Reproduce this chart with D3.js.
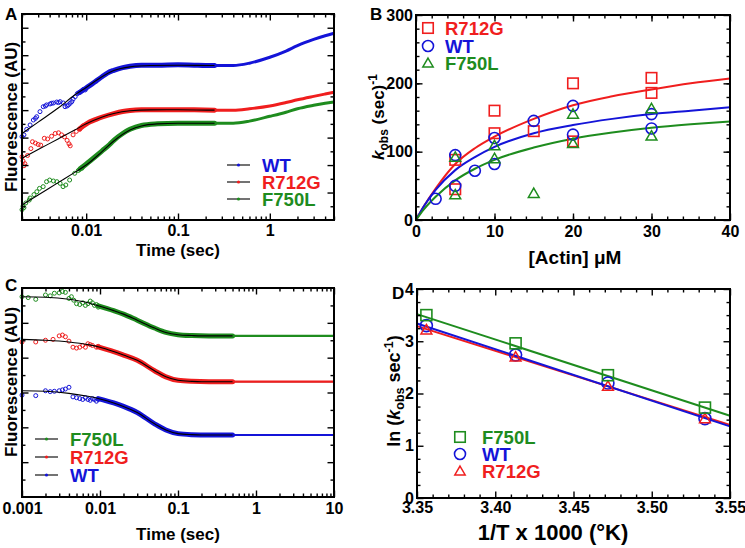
<!DOCTYPE html>
<html>
<head>
<meta charset="utf-8">
<script src="https://cdn.jsdelivr.net/npm/d3@7"></script>
<style>
body { margin: 0; background: #fff; }
svg text { font-family: "Liberation Sans", Arial, sans-serif; font-weight: bold; }
</style>
</head>
<body>
<svg id="fig" width="745" height="548"></svg>
<script>
var BLUE = "#1414d8", RED = "#f01e1e", GREEN = "#1e8c1e";

/* ---- panel A : transients, time (sec) vs fluorescence (AU) ---- */
var aTicks = [0.01, 0.1, 1];
var aTickLabels = ["0.01", "0.1", "1"];

var aWTPts = [[0.0020,6.07],[0.0021,6.2],[0.00225,6.6],[0.00245,6.92],[0.00266,7.28],[0.0028,7.4],[0.00289,7.52],[0.00314,7.89],[0.00341,8.25],[0.0036,8.3],[0.00371,8.38],[0.00404,8.45],[0.0042,8.5],[0.0044,8.52],[0.00478,8.59],[0.005,8.55],[0.0052,8.62],[0.00565,8.52],[0.00589,8.25],[0.0062,8.3],[0.00641,8.38],[0.0067,8.5],[0.00698,8.62],[0.0072,8.8],[0.00759,8.98],[0.0080,9.2],[0.00825,9.25],[0.0086,9.3],[0.00897,9.4],[0.0093,9.5],[0.00976,9.47]];
var aWTBand = [[0.0085,9.3],[0.011,9.8],[0.013,10.15],[0.015,10.45],[0.017,10.7],[0.02,10.9],[0.025,11.1],[0.03,11.2],[0.04,11.27],[0.06,11.27],[0.1,11.3],[0.15,11.27],[0.2,11.25],[0.25,11.25]];
var aWTTail = [[0.25,11.25],[0.4,11.25],[0.6,11.42],[1,11.85],[1.5,12.3],[2,12.7],[3,13.15],[4,13.42],[5,13.6]];
var aWTFit = [[0.002,6.3],[0.003,7.13],[0.005,8.17],[0.0075,9.1],[0.01,9.65],[0.015,10.45],[0.02,10.88],[0.03,11.15],[0.05,11.25],[0.1,11.27],[0.25,11.25],[0.4,11.25],[0.6,11.42],[1,11.85],[1.5,12.3],[2,12.7],[3,13.15],[4,13.42],[5,13.6]];

var aR7Pts = [[0.0020,4.6],[0.00205,4.3],[0.0021,3.95],[0.00215,4.1],[0.0023,4.7],[0.0025,5.2],[0.0026,5.7],[0.0028,5.6],[0.003,5.5],[0.0032,5.45],[0.0035,5.95],[0.0038,5.9],[0.0042,6.1],[0.0046,6.3],[0.005,6.35],[0.0054,6.2],[0.0058,6.05],[0.0062,5.8],[0.0065,5.55],[0.0067,5.4],[0.0072,6.2],[0.0078,6.45],[0.0085,6.6],[0.0092,6.85]];
var aR7Band = [[0.0085,6.65],[0.011,7.15],[0.013,7.35],[0.015,7.5],[0.02,7.75],[0.025,7.9],[0.03,7.97],[0.04,8.02],[0.06,8.03],[0.1,8.03],[0.15,8.02],[0.25,8.0]];
var aR7Tail = [[0.25,8.0],[0.4,8.0],[0.6,8.1],[1,8.3],[1.5,8.55],[2,8.75],[3,9.0],[4,9.17],[5,9.3]];
var aR7Fit = [[0.002,4.5],[0.003,5.13],[0.005,5.92],[0.0075,6.55],[0.01,7.0],[0.015,7.5],[0.02,7.75],[0.03,7.95],[0.05,8.02],[0.1,8.03],[0.25,8.0],[0.4,8.0],[0.6,8.1],[1,8.3],[1.5,8.55],[2,8.75],[3,9.0],[4,9.17],[5,9.3]];

var aF7Pts = [[0.0020,0.75],[0.00205,1.0],[0.0021,0.9],[0.0022,1.24],[0.0024,1.45],[0.00245,1.6],[0.0027,1.85],[0.0029,2.06],[0.0031,2.3],[0.0034,2.43],[0.0037,2.79],[0.004,2.91],[0.0044,2.84],[0.0048,2.79],[0.0052,2.67],[0.0056,2.43],[0.006,2.55],[0.0066,2.91],[0.0075,3.4],[0.0082,3.6],[0.009,3.77]];
var aF7Band = [[0.0085,3.7],[0.011,4.3],[0.013,4.7],[0.015,5.05],[0.018,5.5],[0.02,5.8],[0.025,6.3],[0.03,6.6],[0.04,6.88],[0.06,7.0],[0.1,7.05],[0.15,7.05],[0.25,7.05]];
var aF7Tail = [[0.25,7.05],[0.4,7.05],[0.6,7.2],[1,7.55],[1.5,7.85],[2,8.1],[3,8.35],[4,8.5],[5,8.6]];
var aF7Fit = [[0.002,1.09],[0.003,1.82],[0.005,2.74],[0.0075,3.47],[0.01,4.0],[0.015,5.0],[0.02,5.75],[0.03,6.55],[0.04,6.85],[0.06,7.0],[0.1,7.05],[0.25,7.05],[0.4,7.05],[0.6,7.2],[1,7.55],[1.5,7.85],[2,8.1],[3,8.35],[4,8.5],[5,8.6]];

/* ---- panel B : kobs vs [actin] ---- */
var bTicksX = [0, 10, 20, 30, 40];
var bTicksY = [0, 100, 200, 300];
var bR7 = [[5,88],[5,45],[10,160],[10,127],[15,130],[20,200],[20,115],[30,208],[30,186]];
var bWT = [[2.5,31],[5,95],[5,50],[7.5,72],[10,120],[10,82],[15,145],[20,167],[20,125],[30,155],[30,134]];
var bF7 = [[5,92],[5,37],[10,109],[10,90],[15,39],[20,155],[20,112],[30,163],[30,123]];
var bR7Fit = [[0,0],[1,20],[2.5,46],[5,82],[7.5,105],[10,122],[15,148],[20,168],[25,181],[30,191],[35,200],[40,207]];
var bWTFit = [[0,0],[1,20],[2.5,44],[5,73],[7.5,92],[10,107],[15,127],[20,139],[25,148],[30,155],[35,160],[40,165]];
var bF7Fit = [[0,0],[1,15.5],[2.5,34],[5,58],[7.5,75],[10,88],[15,106],[20,119],[25,128],[30,135],[35,140],[40,144]];

/* ---- panel C : transients ---- */
var cTicks = [0.001, 0.01, 0.1, 1, 10];
var cTickLabels = ["0.001", "0.01", "0.1", "1", "10"];

var cF7Pts = [[0.001,11.5],[0.0012,11.45],[0.0015,11.35],[0.002,11.6],[0.0023,11.55],[0.0026,11.7],[0.003,11.72],[0.0033,11.8],[0.0036,11.75],[0.004,11.4],[0.0043,11.5],[0.0046,11.3],[0.005,11.1],[0.0055,11.05],[0.006,11.15],[0.0065,11.0],[0.007,11.1],[0.0075,11.25],[0.008,11.15],[0.0085,11.0],[0.009,11.05],[0.0095,10.9]];
var cF7Band = [[0.0095,10.98],[0.015,10.7],[0.02,10.5],[0.03,10.15],[0.05,9.7],[0.07,9.45],[0.1,9.32],[0.15,9.27],[0.25,9.25],[0.5,9.25]];
var cF7Tail = [[0.5,9.25],[1,9.25],[3,9.25],[10,9.25]];
var cF7Fit = [[0.001,11.5],[0.002,11.47],[0.004,11.35],[0.007,11.15],[0.01,10.95],[0.015,10.7],[0.02,10.5],[0.03,10.15],[0.05,9.7],[0.07,9.45],[0.1,9.32],[0.15,9.27],[0.2,9.25],[0.5,9.25],[10,9.25]];

var cR7Pts = [[0.001,8.9],[0.0015,8.9],[0.002,9.0],[0.0025,9.05],[0.003,9.25],[0.0033,9.3],[0.0036,9.2],[0.004,8.95],[0.0045,8.6],[0.005,8.55],[0.0055,8.6],[0.006,8.7],[0.0065,8.6],[0.007,8.8],[0.0075,8.75],[0.008,8.7],[0.009,8.6],[0.0095,8.65]];
var cR7Band = [[0.0095,8.62],[0.015,8.35],[0.02,8.15],[0.03,7.85],[0.05,7.25],[0.07,6.9],[0.1,6.7],[0.15,6.64],[0.25,6.62],[0.5,6.62]];
var cR7Tail = [[0.5,6.62],[1,6.62],[3,6.62],[10,6.62]];
var cR7Fit = [[0.001,9.05],[0.002,9.0],[0.004,8.9],[0.007,8.75],[0.01,8.6],[0.015,8.35],[0.02,8.15],[0.03,7.85],[0.05,7.25],[0.07,6.9],[0.1,6.7],[0.15,6.64],[0.2,6.62],[0.5,6.62],[10,6.62]];

var cWTPts = [[0.001,5.85],[0.0015,5.82],[0.002,6.1],[0.0023,6.05],[0.0026,6.07],[0.003,6.1],[0.0033,6.15],[0.0036,6.2],[0.004,6.3],[0.0045,5.75],[0.005,5.7],[0.0055,5.65],[0.006,5.6],[0.0065,5.7],[0.007,5.6],[0.0075,5.55],[0.008,5.65],[0.0085,5.6],[0.009,5.5],[0.0095,5.6]];
var cWTBand = [[0.0095,5.65],[0.015,5.4],[0.02,5.2],[0.03,4.85],[0.05,4.2],[0.07,3.85],[0.1,3.64],[0.15,3.58],[0.25,3.56],[0.5,3.56]];
var cWTTail = [[0.5,3.56],[1,3.56],[3,3.56],[10,3.56]];
var cWTFit = [[0.001,6.1],[0.002,6.07],[0.004,5.95],[0.007,5.78],[0.01,5.63],[0.015,5.4],[0.02,5.2],[0.03,4.85],[0.05,4.2],[0.07,3.85],[0.1,3.64],[0.15,3.58],[0.2,3.56],[0.5,3.56],[10,3.56]];

/* ---- panel D : Arrhenius ---- */
var dTicksX = [3.35, 3.40, 3.45, 3.50, 3.55];
var dTicksY = [0, 1, 2, 3, 4];
var dTemps = [3.356, 3.413, 3.472, 3.534];
var dF7 = [3.50, 2.96, 2.35, 1.73];
var dWT = [3.30, 2.74, 2.20, 1.52];
var dR7 = [3.22, 2.70, 2.14, 1.52];
var dF7Fit = [[3.35,3.52],[3.55,1.575]];
var dWTFit = [[3.35,3.34],[3.55,1.37]];
var dR7Fit = [[3.35,3.29],[3.55,1.40]];

var svg = d3.select("#fig");

function panel(left, top) {
    return svg.append("g").attr("transform", "translate(" + left + "," + top + ")");
}

// inward ticks on all four sides, labels only bottom / left
function axes(g, x, y, w, h, o) {
    function side(fn, scale, vals, size, fmt, tr, pad) {
        var a = fn(scale).tickValues(vals).tickSizeInner(-size).tickSizeOuter(0)
            .tickPadding(pad || 4).tickFormat(fmt || "");
        var s = g.append("g").attr("transform", tr).call(a);
        s.select(".domain").remove();
        s.selectAll("line").attr("stroke", "#000").attr("stroke-width", 1.4);
        s.selectAll("text").attr("fill", "#000").style("font-size", "16px");
        return s;
    }
    side(d3.axisBottom, x, o.xMajor, 6.5, o.xFmt, "translate(0," + h + ")", o.xPad);
    side(d3.axisBottom, x, o.xMinor, 3.5, null, "translate(0," + h + ")");
    side(d3.axisTop, x, o.xMajor, 6.5, null, "translate(0,0)");
    side(d3.axisTop, x, o.xMinor, 3.5, null, "translate(0,0)");
    side(d3.axisLeft, y, o.yMajor, 6.5, o.yFmt, "translate(0,0)", o.yPad);
    side(d3.axisLeft, y, o.yMinor, 3.5, null, "translate(0,0)");
    side(d3.axisRight, y, o.yMajor, 6.5, null, "translate(" + w + ",0)");
    side(d3.axisRight, y, o.yMinor, 3.5, null, "translate(" + w + ",0)");
    g.append("rect").attr("width", w).attr("height", h)
        .attr("fill", "none").attr("stroke", "#000").attr("stroke-width", 2);
}

function range(a, b, step) { return d3.range(a, b + step / 2, step); }

function logMinor(scale) {
    return scale.ticks().filter(function (t) {
        var m = t / Math.pow(10, Math.floor(Math.log10(t) + 1e-9));
        return Math.abs(m - 1) > 1e-6;
    });
}

function drawTrace(g, x, y, tr, color, tailW) {
    var line = d3.line().x(function (d) { return x(d[0]); }).y(function (d) { return y(d[1]); })
        .curve(d3.curveMonotoneX);
    g.append("path").attr("d", line(tr.band)).attr("fill", "none").attr("stroke", color)
        .attr("stroke-width", 5).attr("stroke-linecap", "round");
    g.selectAll(null).data(tr.pts).enter().append("circle")
        .attr("cx", function (d) { return x(d[0]); }).attr("cy", function (d) { return y(d[1]); })
        .attr("r", 2).attr("fill", "none").attr("stroke", color).attr("stroke-width", 1);
    g.append("path").attr("d", line(tr.fit)).attr("fill", "none").attr("stroke", "#000")
        .attr("stroke-width", 1.1);
    g.append("path").attr("d", line(tr.tail)).attr("fill", "none").attr("stroke", color)
        .attr("stroke-width", tailW);
}

function legendLines(g, x0, textX, rows) {
    rows.forEach(function (r) {
        g.append("line").attr("x1", x0).attr("x2", x0 + 23).attr("y1", r.y).attr("y2", r.y)
            .attr("stroke", "#000").attr("stroke-width", 1.1);
        g.append("circle").attr("cx", x0 + 11.5).attr("cy", r.y).attr("r", 1.6).attr("fill", r.color);
        g.append("text").attr("x", textX).attr("y", r.y + 6.5).attr("fill", r.color)
            .style("font-size", "18.5px").text(r.name);
    });
}

function marker(g, type, cx, cy, color, s) {
    if (type === "square") {
        g.append("rect").attr("x", cx - s / 2).attr("y", cy - s / 2).attr("width", s).attr("height", s)
            .attr("fill", "none").attr("stroke", color).attr("stroke-width", 1.6);
    } else if (type === "circle") {
        g.append("circle").attr("cx", cx).attr("cy", cy).attr("r", s / 2)
            .attr("fill", "none").attr("stroke", color).attr("stroke-width", 1.6);
    } else {
        g.append("path").attr("d", d3.symbol(d3.symbolTriangle, s * s * 0.42)())
            .attr("transform", "translate(" + cx + "," + (cy + 1) + ")")
            .attr("fill", "none").attr("stroke", color).attr("stroke-width", 1.5);
    }
}

function label(x, y, t) {
    svg.append("text").attr("x", x).attr("y", y).style("font-size", "17px").text(t);
}

function ytitle(x, y, size, parts) {
    var t = svg.append("text").attr("transform", "translate(" + x + "," + y + ") rotate(-90)")
        .attr("text-anchor", "middle").style("font-size", size + "px");
    parts.forEach(function (p) {
        var s = t.append("tspan").text(p.t);
        if (p.size) s.style("font-size", p.size + "px");
        if (p.dy) s.attr("dy", p.dy);
        if (p.it) s.style("font-style", "italic");
    });
    return t;
}

function xtitle(x, y, size, t) {
    svg.append("text").attr("x", x).attr("y", y).attr("text-anchor", "middle")
        .style("font-size", size + "px").text(t);
}

/* ===== A ===== */
(function () {
    var w = 312, h = 206, g = panel(22, 14);
    var x = d3.scaleLog().domain([0.002, 5]).range([0, w]);
    var y = d3.scaleLinear().domain([0, 15]).range([h, 0]);
    drawTrace(g, x, y, { pts: aWTPts, band: aWTBand, tail: aWTTail, fit: aWTFit }, BLUE, 3);
    drawTrace(g, x, y, { pts: aR7Pts, band: aR7Band, tail: aR7Tail, fit: aR7Fit }, RED, 3);
    drawTrace(g, x, y, { pts: aF7Pts, band: aF7Band, tail: aF7Tail, fit: aF7Fit }, GREEN, 3);
    axes(g, x, y, w, h, {
        xMajor: aTicks, xMinor: logMinor(x), xPad: 5,
        xFmt: function (d, i) { return aTickLabels[i]; },
        yMajor: range(2, 14, 2), yMinor: range(1, 15, 2)
    });
    legendLines(g, 205, 240, [{ y: 151, name: "WT", color: BLUE }, { y: 168, name: "R712G", color: RED },
        { y: 185, name: "F750L", color: GREEN }]);
})();
label(5, 20, "A");
ytitle(17, 117, 17, [{ t: "Fluorescence (AU)" }]);
xtitle(178, 256, 17, "Time (sec)");

/* ===== B ===== */
(function () {
    var w = 314, h = 205, g = panel(416, 15);
    var x = d3.scaleLinear().domain([0, 40]).range([0, w]);
    var y = d3.scaleLinear().domain([0, 300]).range([h, 0]);
    var line = d3.line().x(function (d) { return x(d[0]); }).y(function (d) { return y(d[1]); })
        .curve(d3.curveMonotoneX);
    [[bR7Fit, RED], [bWTFit, BLUE], [bF7Fit, GREEN]].forEach(function (f) {
        g.append("path").attr("d", line(f[0])).attr("fill", "none").attr("stroke", f[1]).attr("stroke-width", 2);
    });
    bR7.forEach(function (d) { marker(g, "square", x(d[0]), y(d[1]), RED, 10.5); });
    bWT.forEach(function (d) { marker(g, "circle", x(d[0]), y(d[1]), BLUE, 11); });
    bF7.forEach(function (d) { marker(g, "tri", x(d[0]), y(d[1]), GREEN, 11); });
    axes(g, x, y, w, h, {
        xMajor: bTicksX, xMinor: range(2, 38, 2), xPad: 6, xFmt: d3.format("d"),
        yMajor: bTicksY, yMinor: range(20, 280, 20), yPad: 3, yFmt: d3.format("d")
    });
    var lg = [["square", RED, "R712G", 13], ["circle", BLUE, "WT", 31], ["tri", GREEN, "F750L", 48]];
    lg.forEach(function (r) {
        marker(g, r[0], 12, r[3], r[1], r[0] === "circle" ? 11 : 10.5);
        g.append("text").attr("x", 29).attr("y", r[3] + 6.5).attr("fill", r[1])
            .style("font-size", "18.5px").text(r[2]);
    });
})();
label(370, 20, "B");
ytitle(384, 117, 17, [{ t: "k", it: true }, { t: "obs", size: 12, dy: 4 }, { t: " (sec)", dy: -4 },
    { t: "-1", size: 12, dy: -7 }]);
xtitle(575, 264, 19, "[Actin] \u03bcM");

/* ===== C ===== */
(function () {
    var w = 312, h = 209, g = panel(22, 288);
    var x = d3.scaleLog().domain([0.001, 10]).range([0, w]);
    var y = d3.scaleLinear().domain([0, 12]).range([h, 0]);
    drawTrace(g, x, y, { pts: cF7Pts, band: cF7Band, tail: cF7Tail, fit: cF7Fit }, GREEN, 2.2);
    drawTrace(g, x, y, { pts: cR7Pts, band: cR7Band, tail: cR7Tail, fit: cR7Fit }, RED, 2.2);
    drawTrace(g, x, y, { pts: cWTPts, band: cWTBand, tail: cWTTail, fit: cWTFit }, BLUE, 2.2);
    axes(g, x, y, w, h, {
        xMajor: cTicks, xMinor: logMinor(x), xPad: 6,
        xFmt: function (d, i) { return cTickLabels[i]; },
        yMajor: range(2, 10, 2), yMinor: range(1, 11, 2)
    });
    legendLines(g, 13, 48, [{ y: 151, name: "F750L", color: GREEN }, { y: 169, name: "R712G", color: RED },
        { y: 187, name: "WT", color: BLUE }]);
})();
label(5, 291, "C");
ytitle(17, 382, 17, [{ t: "Fluorescence (AU)" }]);
xtitle(178, 540, 17, "Time (sec)");

/* ===== D ===== */
(function () {
    var w = 313, h = 209, g = panel(417, 289);
    var x = d3.scaleLinear().domain([3.35, 3.55]).range([0, w]);
    var y = d3.scaleLinear().domain([0, 4]).range([h, 0]);
    var line = d3.line().x(function (d) { return x(d[0]); }).y(function (d) { return y(d[1]); });
    [[dR7Fit, RED], [dWTFit, BLUE], [dF7Fit, GREEN]].forEach(function (f) {
        g.append("path").attr("d", line(f[0])).attr("fill", "none").attr("stroke", f[1]).attr("stroke-width", 2);
    });
    dTemps.forEach(function (t, i) {
        marker(g, "circle", x(t), y(dWT[i]), BLUE, 12);
        marker(g, "tri", x(t), y(dR7[i]), RED, 11);
        marker(g, "square", x(t), y(dF7[i]), GREEN, 11);
    });
    axes(g, x, y, w, h, {
        xMajor: dTicksX, xMinor: range(3.36, 3.54, 0.01).filter(function (v) { return Math.round(v * 100) % 5 !== 0; }),
        xPad: 4, xFmt: d3.format(".2f"),
        yMajor: dTicksY, yMinor: range(0.25, 3.75, 0.25).filter(function (v) { return v % 1 !== 0; }),
        yPad: 3, yFmt: d3.format("d")
    });
    var lg = [["square", GREEN, "F750L", 148], ["circle", BLUE, "WT", 165], ["tri", RED, "R712G", 182]];
    lg.forEach(function (r) {
        marker(g, r[0], 43, r[3], r[1], r[0] === "circle" ? 11 : 10.5);
        g.append("text").attr("x", 65).attr("y", r[3] + 6.5).attr("fill", r[1])
            .style("font-size", "18.5px").text(r[2]);
    });
})();
label(392, 299, "D");
ytitle(400, 391, 18, [{ t: "ln (" }, { t: "k", it: true }, { t: "obs", size: 12.5, dy: 4 }, { t: " sec", dy: -4 },
    { t: "-1", size: 12.5, dy: -7 }, { t: ")", dy: 7 }]);
xtitle(553, 540, 22, "1/T x 1000 (\u00b0K)");
</script>
</body>
</html>
